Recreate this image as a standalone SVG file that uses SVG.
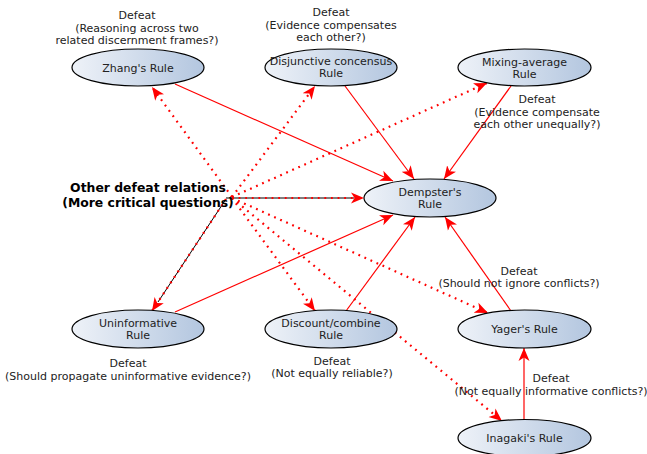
<svg xmlns="http://www.w3.org/2000/svg" width="647" height="454" viewBox="0 0 647 454">
<style>
  .node ellipse { fill: url(#g); stroke: #000; stroke-width: 1.2; }
  .node text { font-family: "DejaVu Sans", sans-serif; font-size: 11px; fill: #222; text-anchor: middle; }
  .lbl { font-family: "DejaVu Sans", sans-serif; font-size: 11px; fill: #222; text-anchor: middle; }
  .big { font-family: "DejaVu Sans", sans-serif; font-size: 12.4px; font-weight: bold; fill: #000; text-anchor: middle; }
  .solid { stroke: #ff0000; stroke-width: 1.2; fill: none; marker-end: url(#ah); }
  .dot { stroke: #ff0000; stroke-width: 2.2; fill: none; stroke-dasharray: 1.8 4.8; marker-end: url(#ah); }
  .blk { stroke: #000; stroke-width: 1; fill: none; }
</style>
<defs>
  <linearGradient id="g" x1="0" y1="0" x2="1" y2="0">
    <stop offset="0" stop-color="#eef2f8"/>
    <stop offset="1" stop-color="#b3c6df"/>
  </linearGradient>
  <marker id="ah" viewBox="0 -6 14 12" refX="13" refY="0" markerWidth="14" markerHeight="12" markerUnits="userSpaceOnUse" orient="auto">
    <path d="M0,-5.5 L13,0 L0,5.5 L3.5,0 z" fill="#ff0000"/>
  </marker>
</defs>

<g id="connectors">
  <line class="solid" x1="175" y1="84" x2="393" y2="181"/>
  <line class="solid" x1="345" y1="86" x2="414" y2="179"/>
  <line class="solid" x1="511" y1="86" x2="444" y2="179"/>
  <line class="solid" x1="175" y1="312" x2="393" y2="215"/>
  <line class="solid" x1="346" y1="311" x2="415" y2="217"/>
  <line class="solid" x1="511" y1="311" x2="445" y2="217"/>
  <line class="solid" x1="524" y1="420" x2="524" y2="348"/>

  <line class="blk" x1="226" y1="198" x2="354" y2="198"/>
  <line class="blk" x1="226" y1="199" x2="158" y2="302"/>

  <line class="dot" x1="232" y1="197" x2="152" y2="87"/>
  <line class="dot" x1="232" y1="197" x2="315" y2="86"/>
  <line class="dot" x1="232" y1="197" x2="487" y2="83"/>
  <line class="dot" x1="232" y1="198" x2="364" y2="198"/>
  <line class="dot" x1="226" y1="199" x2="152" y2="311"/>
  <line class="dot" x1="232" y1="198" x2="315" y2="311"/>
  <line class="dot" x1="232" y1="198" x2="488" y2="313"/>
  <line class="dot" x1="232" y1="198" x2="502" y2="421"/>
</g>

<g id="zhang" class="node">
  <ellipse cx="138" cy="67.5" rx="66" ry="18.5"/>
  <text x="138" y="71.5">Zhang's Rule</text>
</g>
<g id="disjunctive" class="node">
  <ellipse cx="331" cy="67.5" rx="66" ry="18.5"/>
  <text x="331" y="65">Disjunctive concensus</text>
  <text x="331" y="77">Rule</text>
</g>
<g id="mixing" class="node">
  <ellipse cx="524.5" cy="67.5" rx="66.5" ry="18.5"/>
  <text x="524.5" y="66">Mixing-average</text>
  <text x="524.5" y="77.5">Rule</text>
</g>
<g id="dempster" class="node">
  <ellipse cx="430" cy="198" rx="66" ry="19"/>
  <text x="430" y="196">Dempster's</text>
  <text x="430" y="208">Rule</text>
</g>
<g id="uninformative" class="node">
  <ellipse cx="138" cy="329" rx="66" ry="19"/>
  <text x="138" y="327">Uninformative</text>
  <text x="138" y="339">Rule</text>
</g>
<g id="discount" class="node">
  <ellipse cx="331" cy="329" rx="66" ry="19"/>
  <text x="331" y="327">Discount/combine</text>
  <text x="331" y="339">Rule</text>
</g>
<g id="yager" class="node">
  <ellipse cx="524.5" cy="329" rx="66.5" ry="19"/>
  <text x="524.5" y="333">Yager's Rule</text>
</g>
<g id="inagaki" class="node">
  <ellipse cx="524.5" cy="438" rx="66.5" ry="18.5"/>
  <text x="524.5" y="442">Inagaki's Rule</text>
</g>

<g id="other">
  <text class="big" x="148" y="192">Other defeat relations</text>
  <text class="big" x="148" y="207">(More critical questions)</text>
</g>

<g id="labels">
  <text class="lbl" x="137" y="19">Defeat</text>
  <text class="lbl" x="137" y="32">(Reasoning across two</text>
  <text class="lbl" x="137" y="44">related discernment frames?)</text>

  <text class="lbl" x="331" y="16">Defeat</text>
  <text class="lbl" x="331" y="29">(Evidence compensates</text>
  <text class="lbl" x="331" y="41">each other?)</text>

  <text class="lbl" x="537" y="103">Defeat</text>
  <text class="lbl" x="537" y="116">(Evidence compensate</text>
  <text class="lbl" x="537" y="128">each other unequally?)</text>

  <text class="lbl" x="519" y="275">Defeat</text>
  <text class="lbl" x="519" y="287">(Should not ignore conflicts?)</text>

  <text class="lbl" x="128" y="367">Defeat</text>
  <text class="lbl" x="128" y="380">(Should propagate uninformative evidence?)</text>

  <text class="lbl" x="332" y="365">Defeat</text>
  <text class="lbl" x="332" y="377">(Not equally reliable?)</text>

  <text class="lbl" x="551" y="382">Defeat</text>
  <text class="lbl" x="551" y="395">(Not equally informative conflicts?)</text>
</g>
</svg>
